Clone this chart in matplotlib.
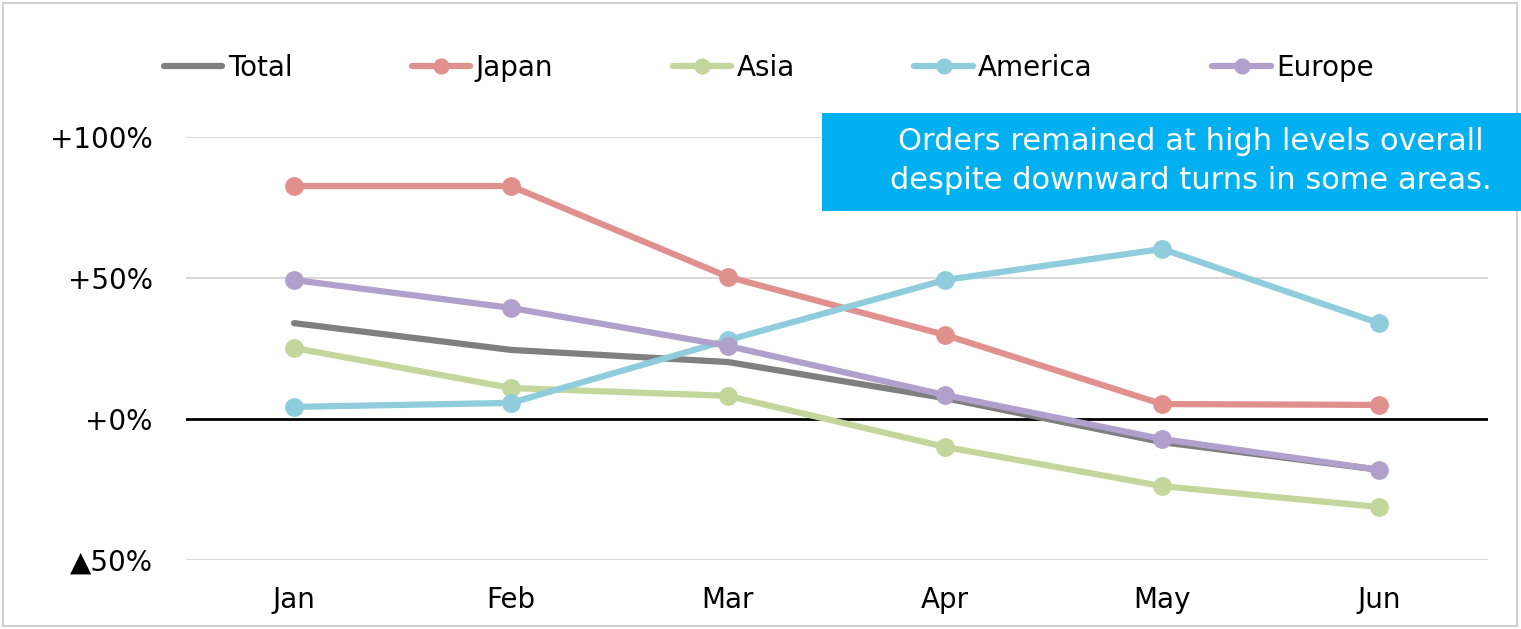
import matplotlib
matplotlib.use("Agg")
import matplotlib.pyplot as plt
from matplotlib.patches import Rectangle

months = ["Jan", "Feb", "Mar", "Apr", "May", "Jun"]
total = [34.0, 24.5, 20.2, 7.4, -8.2, -18.0]
japan = [82.6, 82.6, 50.4, 29.8, 5.3, 5.0]
asia = [25.2, 11.0, 8.2, -9.9, -23.8, -31.2]
america = [4.3, 5.7, 28.0, 49.3, 60.3, 34.0]
europe = [49.3, 39.4, 25.9, 8.5, -7.1, -18.0]

ytick_vals = [-50, 0, 50, 100]
ytick_labels = ["▲50%", "+0%", "+50%", "+100%"]

W, H = 1521, 629
fig = plt.figure(figsize=(W / 100, H / 100), dpi=100)
plt.rcParams['font.family'] = ['DejaVu Sans']

ax = fig.add_axes([185.5 / W, 1 - 560 / H, (1487.5 - 185.5) / W, (560 - 137) / H])
x = range(len(months))

series = [
    ("Total", total, "#7f7f7f", None),
    ("Japan", japan, "#e0918e", "o"),
    ("Asia", asia, "#c3d69b", "o"),
    ("America", america, "#8fcddc", "o"),
    ("Europe", europe, "#b1a0cc", "o"),
]

for v in [-50, 50, 100]:
    ax.axhline(v, color="#d9d9d9", lw=1.5, zorder=0)
ax.axhline(0, color="black", lw=2, zorder=1)

handles = []
for name, vals, col, mk in series:
    h, = ax.plot(x, vals, color=col, lw=4.5, marker=mk, markersize=12.5,
                 solid_capstyle="round", clip_on=False, label=name, zorder=3)
    handles.append(h)

ax.set_xlim(-0.5, 5.5)
ax.set_ylim(-50, 100)
ax.set_xticks(list(x))
ax.set_xticklabels(months, fontsize=20)
ax.set_yticks(ytick_vals)
ax.set_yticklabels(ytick_labels, fontsize=20)
ax.tick_params(length=0)
ax.tick_params(axis="x", pad=19)
ax.tick_params(axis="y", pad=23.5)
for s in ax.spines.values():
    s.set_visible(False)

leg = fig.legend(handles=handles, loc="center left", bbox_to_anchor=(164 / W, 1 - 68 / H),
                 ncol=5, frameon=False, fontsize=20, handlelength=2.1,
                 handletextpad=0.2, columnspacing=4.3, markerscale=0.85,
                 borderaxespad=0, borderpad=0)

# callout box
fig.patches.append(Rectangle((822 / W, 1 - 211 / H), (W - 822) / W, 98 / H,
                             transform=fig.transFigure, facecolor="#00b0f0",
                             edgecolor="none", zorder=5))
fig.text(1191 / W, 1 - 161 / H,
         "Orders remained at high levels overall\ndespite downward turns in some areas.",
         ha="center", va="center", multialignment="center", color="white",
         fontsize=22, linespacing=1.45, zorder=6)

# outer frame
fig.patches.append(Rectangle((3 / W, 3 / H), (W - 7) / W, (H - 6) / H,
                             transform=fig.transFigure, facecolor="none",
                             edgecolor="#d0d0d0", lw=1.5, zorder=0))

fig.savefig("out.png", dpi=100)
